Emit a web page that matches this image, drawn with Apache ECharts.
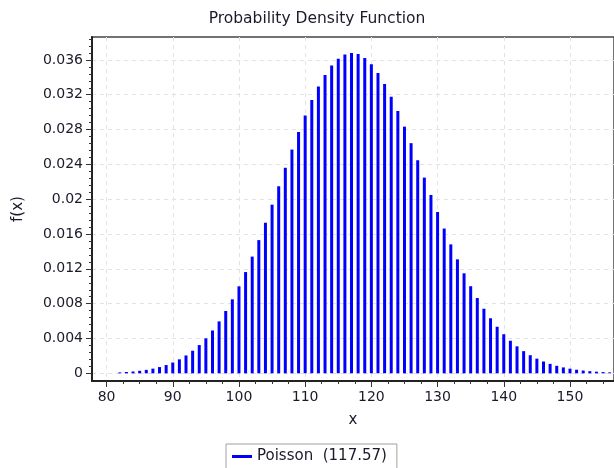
<!DOCTYPE html>
<html><head><meta charset="utf-8">
<script src="https://cdn.jsdelivr.net/npm/echarts@6/dist/echarts.min.js"></script>
<style>html,body{margin:0;padding:0;background:#fff}#c{width:614px;height:468px}</style>
</head><body><div id="c"></div>
<script>
const title = "Probability Density Function";
const seriesName = "Poisson  (117.57)";
const xValues = [82,83,84,85,86,87,88,89,90,91,92,93,94,95,96,97,98,99,100,101,102,103,104,105,106,107,108,109,110,111,112,113,114,115,116,117,118,119,120,121,122,123,124,125,126,127,128,129,130,131,132,133,134,135,136,137,138,139,140,141,142,143,144,145,146,147,148,149,150,151,152,153,154,155,156];
const yValues = [0.000107,0.000151,0.000211,0.000292,0.000399,0.000540,0.000721,0.000952,0.001244,0.001607,0.002054,0.002597,0.003248,0.004019,0.004922,0.005966,0.007157,0.008500,0.009993,0.011632,0.013407,0.015304,0.017301,0.019372,0.021486,0.023608,0.025700,0.027720,0.029628,0.031382,0.032943,0.034275,0.035348,0.036138,0.036627,0.036805,0.036671,0.036230,0.035497,0.034491,0.033239,0.031772,0.030124,0.028333,0.026437,0.024474,0.022480,0.020488,0.018529,0.016629,0.014811,0.013093,0.011488,0.010005,0.008649,0.007422,0.006323,0.005348,0.004491,0.003745,0.003101,0.002550,0.002082,0.001688,0.001359,0.001087,0.000864,0.000681,0.000534,0.000416,0.000322,0.000247,0.000189,0.000143,0.000108];
const xTicks = [80,90,100,110,120,130,140,150];
const xMinorTicks = [82.5,85,87.5,92.5,95,97.5,102.5,105,107.5,112.5,115,117.5,122.5,125,127.5,132.5,135,137.5,142.5,145,147.5,152.5,155];
const yTicks = [0,0.004,0.008,0.012,0.016,0.02,0.024,0.028,0.032,0.036];
const yMinorTicks = [0.0008,0.0016,0.0024,0.0032,0.0048,0.0056,0.0064,0.0072,0.0088,0.0096,0.0104,0.0112,0.0128,0.0136,0.0144,0.0152,0.0168,0.0176,0.0184,0.0192,0.0208,0.0216,0.0224,0.0232,0.0248,0.0256,0.0264,0.0272,0.0288,0.0296,0.0304,0.0312,0.0328,0.0336,0.0344,0.0352,0.0368,0.0376,0.0384];
const xMin = 77.8, xMax = 156.65, yMin = -0.00088, yMax = 0.03863;

const FONT = 'DejaVu Sans';
const TXT = '#1a1a2a';
const chart = echarts.init(document.getElementById('c'));
const data = xValues.map((x, i) => [x, yValues[i]]);
const commonX = {type: 'value', min: xMin, max: xMax, gridIndex: 0, position: 'bottom'};
const commonY = {type: 'value', min: yMin, max: yMax, gridIndex: 0, position: 'left'};
chart.setOption({
  animation: false,
  backgroundColor: '#fff',
  title: {text: title, left: 312, top: 6, textAlign: 'center',
    textStyle: {fontFamily: FONT, fontSize: 15.5, fontWeight: 'normal', color: TXT}},
  legend: {left: 226, top: 444, icon: 'rect', itemWidth: 20, itemHeight: 3,
    borderColor: '#a0a0a0', borderWidth: 1, padding: [5, 10, 12, 6], borderRadius: 0,
    textStyle: {fontFamily: FONT, fontSize: 15, color: TXT}, data: [seriesName]},
  grid: {left: 92, top: 37, right: -4, bottom: 87, show: true, borderColor: '#444', borderWidth: 1.5, containLabel: false},
  xAxis: [
    Object.assign({}, commonX, {
      name: 'x', nameLocation: 'middle', nameGap: 32,
      nameTextStyle: {fontFamily: FONT, fontSize: 15, color: TXT},
      axisLine: {show: true, onZero: false, lineStyle: {color: '#222', width: 2}},
      axisTick: {show: true, length: 6, customValues: xTicks, lineStyle: {color: '#333'}},
      axisLabel: {customValues: xTicks, margin: 9, fontFamily: FONT, fontSize: 14, color: TXT},
      splitLine: {show: true, lineStyle: {color: '#e2e2e2', type: [4, 4]}}
    }),
    Object.assign({}, commonX, {
      axisLine: {show: false, onZero: false},
      axisTick: {show: true, length: 3, customValues: xMinorTicks, lineStyle: {color: '#333'}},
      axisLabel: {show: false},
      splitLine: {show: false}
    })
  ],
  yAxis: [
    Object.assign({}, commonY, {
      name: 'f(x)', nameLocation: 'middle', nameGap: 66,
      nameTextStyle: {fontFamily: FONT, fontSize: 15, color: TXT},
      axisLine: {show: true, onZero: false, lineStyle: {color: '#222', width: 2}},
      axisTick: {show: true, length: 6, customValues: yTicks, lineStyle: {color: '#333'}},
      axisLabel: {customValues: yTicks, margin: 9, fontFamily: FONT, fontSize: 14, color: TXT},
      splitLine: {show: true, lineStyle: {color: '#e2e2e2', type: [4, 4]}}
    }),
    Object.assign({}, commonY, {
      axisLine: {show: false, onZero: false},
      axisTick: {show: true, length: 3, customValues: yMinorTicks, lineStyle: {color: '#333'}},
      axisLabel: {show: false},
      splitLine: {show: false}
    })
  ],
  series: [{
    name: seriesName, type: 'bar', xAxisIndex: 0, yAxisIndex: 0,
    data: data, barWidth: 3, itemStyle: {color: '#0000ff'}
  }]
});
</script></body></html>
